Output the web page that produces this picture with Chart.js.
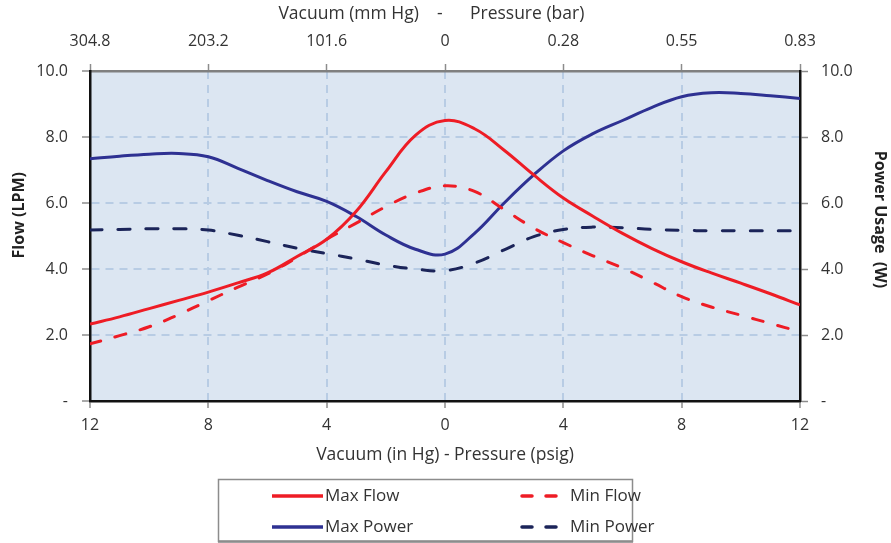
<!DOCTYPE html>
<html>
<head>
<meta charset="utf-8">
<script src="https://cdn.jsdelivr.net/npm/chart.js@4/dist/chart.umd.min.js"></script>
<style>
  body { margin: 0; background: #fff; }
  #wrap { width: 891px; height: 543px; position: relative; }
</style>
</head>
<body>
<div id="wrap"><canvas id="myChart"></canvas></div>
<script>
// pressure axis (negative = vacuum in Hg, positive = psig)
const pressao  = [-12, -11, -10, -9, -8, -7, -6, -5, -4, -3, -2, -1, 0, 1, 2, 3, 4, 5, 6, 7, 8, 9, 10, 11, 12];
const maxFlow  = [2.33, 2.55, 2.8, 3.05, 3.3, 3.58, 3.88, 4.38, 4.9, 5.75, 6.95, 8.05, 8.5, 8.25, 7.6, 6.85, 6.15, 5.6, 5.08, 4.62, 4.22, 3.88, 3.57, 3.25, 2.91];
const minFlow  = [1.73, 1.98, 2.25, 2.62, 3.04, 3.45, 3.85, 4.35, 4.9, 5.39, 5.89, 6.3, 6.52, 6.35, 5.8, 5.24, 4.8, 4.4, 4.03, 3.6, 3.16, 2.85, 2.6, 2.35, 2.1];
const maxPower = [7.34, 7.42, 7.48, 7.5, 7.4, 7.05, 6.68, 6.34, 6.05, 5.59, 5.03, 4.6, 4.45, 5.08, 6.0, 6.85, 7.58, 8.1, 8.5, 8.9, 9.22, 9.34, 9.32, 9.25, 9.17];
const minPower = [5.18, 5.2, 5.22, 5.22, 5.18, 5.02, 4.83, 4.63, 4.47, 4.3, 4.12, 4.0, 3.95, 4.18, 4.58, 4.98, 5.2, 5.27, 5.25, 5.2, 5.17, 5.16, 5.16, 5.16, 5.16];

const topLabels = ['304.8', '203.2', '101.6', '0', '0.28', '0.55', '0.83'];

const FONTE = "'Open Sans', 'DejaVu Sans', sans-serif";
const TAM = 16;
const TAM_TITULO = 17.5;
const VERMELHO = '#ee1c25';
const AZUL = '#2e3192';
const MARINHO = '#1b2459';

function pontos(vals) {
    return pressao.map((x, i) => ({ x: x, y: vals[i] }));
}

const fundoArea = {
    id: 'fundoArea',
    beforeDraw(chart) {
        const a = chart.chartArea;
        const c = chart.ctx;
        c.save();
        c.fillStyle = '#dce6f2';
        c.fillRect(a.left, a.top, a.right - a.left, a.bottom - a.top);
        c.restore();
    }
};

// legend box with 2 columns, drawn under the axis title
const legendaCaixa = {
    id: 'legendaCaixa',
    afterDraw(chart) {
        const c = chart.ctx;
        c.save();
        c.strokeStyle = '#8c8c8c';
        c.lineWidth = 1.5;
        c.strokeRect(218.5, 479.5, 414, 62);
        c.beginPath();
        c.lineWidth = 2.5;
        c.moveTo(218, 541.5);
        c.lineTo(633, 541.5);
        c.stroke();

        const itens = [
            { ds: 0, x: 272, y: 496 },
            { ds: 1, x: 520, y: 496 },
            { ds: 2, x: 272, y: 527 },
            { ds: 3, x: 520, y: 527 }
        ];
        itens.forEach(it => {
            const d = chart.data.datasets[it.ds];
            c.beginPath();
            c.strokeStyle = d.borderColor;
            c.lineWidth = 3.5;
            c.lineCap = d.borderDash ? 'round' : 'butt';
            c.setLineDash(d.borderDash ? [10, 14] : []);
            const comp = d.borderDash ? 44 : 51;
            c.moveTo(it.x + (d.borderDash ? 2 : 0), it.y);
            c.lineTo(it.x + comp, it.y);
            c.stroke();
            c.setLineDash([]);
            c.fillStyle = '#333';
            c.font = '17px ' + FONTE;
            c.textBaseline = 'middle';
            c.textAlign = 'left';
            c.fillText(d.label, it.x + (d.borderDash ? 50 : 53), it.y);
        });
        c.restore();
    }
};

const ctx = document.getElementById('myChart').getContext('2d');

const grafico = new Chart(ctx, {
    type: 'line',
    data: {
        datasets: [{
            label: 'Max Flow',
            data: pontos(maxFlow),
            borderColor: VERMELHO,
            borderWidth: 3,
            yAxisID: 'y',
            xAxisID: 'x'
        }, {
            label: 'Min Flow',
            data: pontos(minFlow),
            borderColor: VERMELHO,
            borderWidth: 3,
            borderDash: [11, 15],
            borderCapStyle: 'round',
            yAxisID: 'y',
            xAxisID: 'x'
        }, {
            label: 'Max Power',
            data: pontos(maxPower),
            borderColor: AZUL,
            borderWidth: 3,
            yAxisID: 'y2',
            xAxisID: 'x'
        }, {
            label: 'Min Power',
            data: pontos(minPower),
            borderColor: MARINHO,
            borderWidth: 3,
            borderDash: [12, 16],
            borderCapStyle: 'round',
            yAxisID: 'y2',
            xAxisID: 'x'
        }]
    },
    options: {
        responsive: true,
        maintainAspectRatio: false,
        animation: false,
        layout: { padding: { top: 0, bottom: 67, left: 0, right: 0 } },
        elements: {
            point: { radius: 0 },
            line: { tension: 0.4, fill: false }
        },
        plugins: {
            legend: { display: false },
            tooltip: { enabled: false }
        },
        scales: {
            x: {
                type: 'linear',
                position: 'bottom',
                min: -12,
                max: 12,
                afterFit(s) { s.height = 75; },
                ticks: {
                    stepSize: 4,
                    padding: 8,
                    color: '#333',
                    font: { family: FONTE, size: TAM },
                    callback: v => Math.abs(v)
                },
                grid: {
                    color: '#b8cce4',
                    lineWidth: 2,
                    tickColor: '#8c8c8c',
                    tickLength: 7,
                    tickWidth: 1.5
                },
                border: { color: '#111', width: 2.5, dash: [8, 6] },
                title: {
                    display: true,
                    text: 'Vacuum (in Hg) - Pressure (psig)',
                    color: '#333',
                    font: { family: FONTE, size: TAM_TITULO },
                    padding: { top: 0, bottom: 10 }
                }
            },
            x2: {
                type: 'linear',
                position: 'top',
                min: -12,
                max: 12,
                afterFit(s) { s.height = 71; },
                ticks: {
                    stepSize: 4,
                    padding: 13,
                    color: '#333',
                    font: { family: FONTE, size: TAM },
                    callback: v => topLabels[Math.round((v + 12) / 4)]
                },
                grid: {
                    drawOnChartArea: false,
                    tickColor: '#8c8c8c',
                    tickLength: 7,
                    tickWidth: 1.5
                },
                border: { color: '#808080', width: 2.5 },
                title: {
                    display: true,
                    text: 'Vacuum (mm Hg)    -      Pressure (bar)      ',
                    color: '#333',
                    font: { family: FONTE, size: TAM_TITULO },
                    padding: { top: 4, bottom: 0 }
                }
            },
            y: {
                position: 'left',
                min: 0,
                max: 10,
                afterFit(s) { s.width = 90; },
                ticks: {
                    stepSize: 2,
                    padding: 14,
                    color: '#333',
                    font: { family: FONTE, size: TAM },
                    callback: v => v === 0 ? '-' : v.toFixed(1)
                },
                grid: {
                    color: '#b8cce4',
                    lineWidth: 2,
                    tickColor: '#8c8c8c',
                    tickLength: 8,
                    tickWidth: 1.5
                },
                border: { color: '#111', width: 2.5, dash: [8, 6] },
                title: {
                    display: true,
                    text: '          Flow (LPM)',
                    color: '#222',
                    font: { family: FONTE, size: TAM, weight: 'bold' },
                    padding: { top: 10, bottom: 0 }
                }
            },
            y2: {
                position: 'right',
                min: 0,
                max: 10,
                afterFit(s) { s.width = 91; },
                ticks: {
                    stepSize: 2,
                    padding: 13,
                    color: '#333',
                    font: { family: FONTE, size: TAM },
                    callback: v => v === 0 ? '-' : v.toFixed(1)
                },
                grid: {
                    drawOnChartArea: false,
                    tickColor: '#8c8c8c',
                    tickLength: 8,
                    tickWidth: 1.5
                },
                border: { color: '#111', width: 2.5 },
                title: {
                    display: true,
                    text: 'Power Usage  (W)        ',
                    color: '#222',
                    font: { family: FONTE, size: TAM, weight: 'bold' },
                    padding: { top: 2, bottom: 0 }
                }
            }
        }
    },
    plugins: [fundoArea, legendaCaixa]
});
</script>
</body>
</html>
